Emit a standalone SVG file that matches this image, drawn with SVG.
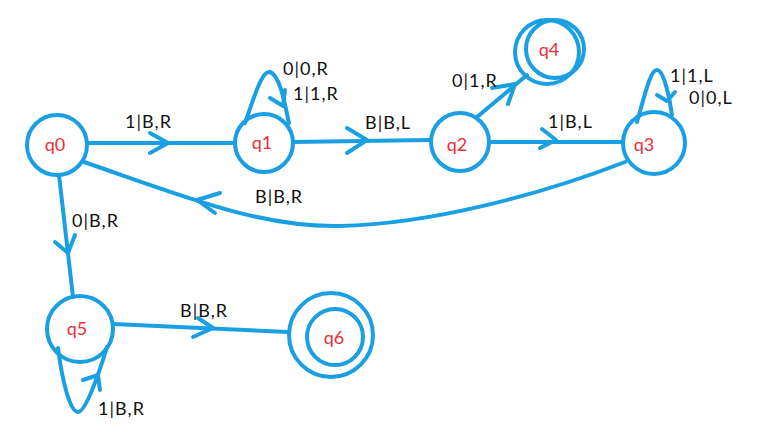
<svg xmlns="http://www.w3.org/2000/svg" width="768" height="435" viewBox="0 0 768 435">
<style>
.n{fill:none;stroke:#1aa0e2;stroke-width:4}
.e{fill:none;stroke:#1aa0e2;stroke-width:4;stroke-linecap:round;stroke-linejoin:round}
.s{font-family:Lato,"Liberation Sans",sans-serif;font-size:18px;fill:#e8303a;text-anchor:middle}
.l{font-family:Lato,"Liberation Sans",sans-serif;font-size:18px;letter-spacing:1px;fill:#111}
</style>
<rect width="768" height="435" fill="#fff"/>
<g id="edges">
<path class="e" d="M87,143 L235,143"/><path class="e" d="M150,133 L168,143 L150,153"/>
<path class="e" d="M245,123 C255,95 262,70 270,72 C280,75 285,105 289,123"/><path class="e" d="M270,98 L283,106 L285,90"/>
<path class="e" d="M293,142 L430,140"/><path class="e" d="M347,128 L367,140 L347,153"/>
<path class="e" d="M477,117 L527,75"/><path class="e" d="M492,88 L515,84 L508,104"/>
<path class="e" d="M490,142 L622,142"/><path class="e" d="M542,129 L556,140 L540,148"/>
<path class="e" d="M637,122 C645,95 650,70 657,70 C664,70 670,100 672,115"/><path class="e" d="M657,95 L667,101 L675,92"/>
<path class="e" d="M625,162 C540,195 430,224 340,226 C260,228 180,195 84,162"/><path class="e" d="M220,193 L197,200 L215,213"/>
<path class="e" d="M59,175 L73,297"/><path class="e" d="M55,242 L68,253 L75,235"/>
<path class="e" d="M113,324 L288,332"/><path class="e" d="M198,318 L213,328 L193,337"/>
<path class="e" d="M58,348 C62,380 70,412 78,412 C86,412 100,370 107,347"/><path class="e" d="M83,380 L98,375 L100,390"/>
</g>
<g id="q0"><circle class="n" cx="57" cy="145" r="30"/><text class="s" x="55" y="151">q0</text></g>
<g id="q1"><circle class="n" cx="264" cy="143" r="29"/><text class="s" x="262" y="149">q1</text></g>
<g id="q2"><circle class="n" cx="460" cy="142" r="29"/><text class="s" x="457" y="151">q2</text></g>
<g id="q3"><circle class="n" cx="654" cy="143" r="31"/><text class="s" x="644" y="151">q3</text></g>
<g id="q4"><circle class="n" cx="547" cy="52" r="32"/><circle class="n" cx="555" cy="49" r="29"/><text class="s" x="549" y="56">q4</text></g>
<g id="q5"><circle class="n" cx="80" cy="329" r="33"/><text class="s" x="77" y="335">q5</text></g>
<g id="q6"><circle class="n" cx="331" cy="335" r="42"/><circle class="n" cx="335" cy="337" r="28"/><text class="s" x="334" y="344">q6</text></g>
<g id="labels">
<text class="l" x="125" y="128">1|B,R</text>
<text class="l" x="283" y="75">0|0,R</text>
<text class="l" x="293" y="100">1|1,R</text>
<text class="l" x="365" y="129">B|B,L</text>
<text class="l" x="452" y="87">0|1,R</text>
<text class="l" x="548" y="128">1|B,L</text>
<text class="l" x="670" y="82">1|1,L</text>
<text class="l" x="689" y="104">0|0,L</text>
<text class="l" x="255" y="203">B|B,R</text>
<text class="l" x="72" y="227">0|B,R</text>
<text class="l" x="180" y="317">B|B,R</text>
<text class="l" x="98" y="415">1|B,R</text>
</g>
</svg>
